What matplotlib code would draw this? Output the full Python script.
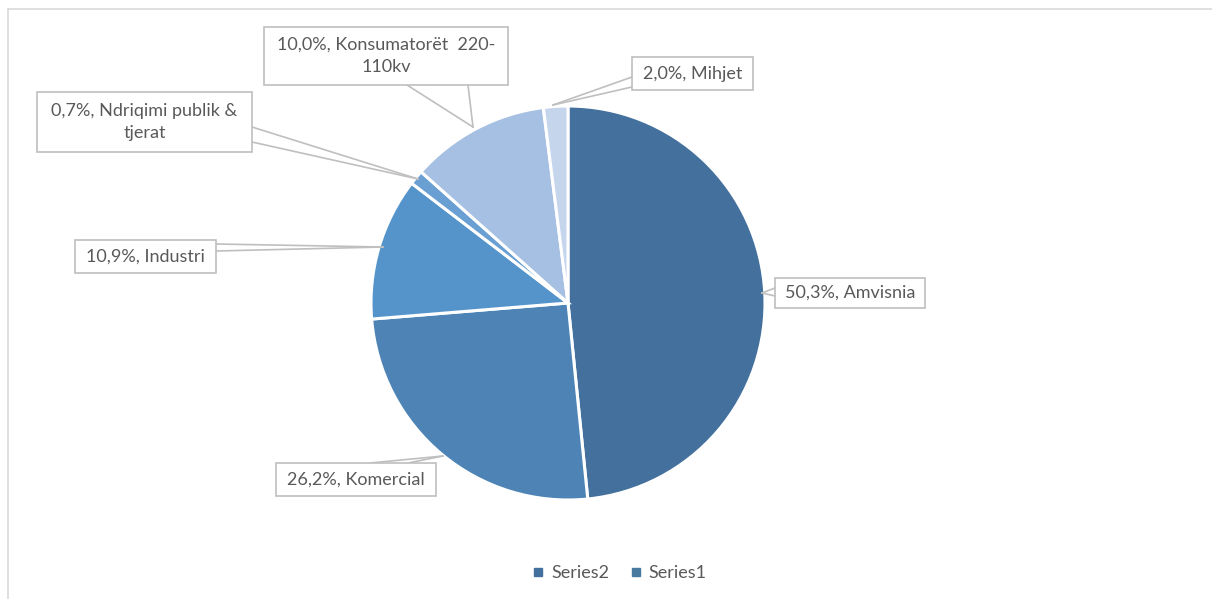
import matplotlib.pyplot as plt
from matplotlib.patches import Rectangle
from matplotlib.lines import Line2D

# slice labels as printed on the chart
categories = ['Amvisnia', 'Komercial', 'Industri', 'Ndriqimi publik &\ntjerat',
              'Konsumatorët  220-\n110kv', 'Mihjet']
label_pct = ['50,3%', '26,2%', '10,9%', '0,7%', '10,0%', '2,0%']
# slice sizes as they are drawn in the picture (share of the circle, %)
slice_sizes = [48.4, 25.3, 11.7, 1.2, 11.4, 2.0]
colors = ['#43709c', '#4d84b5', '#5593cb', '#6a9fd3', '#a5c0e2', '#c4d5ec']
legend_names = ['Series2', 'Series1']
legend_colors = ['#43709c', '#48799f']

W, H = 1212, 599
TXT = '#595959'
EDGE = '#bfbfbf'
FONT = 'Lato'


def py(y):
    # pixel row -> data y
    return H - y


fig = plt.figure(figsize=(W / 100, H / 100), dpi=100)
ax = fig.add_axes([0, 0, 1, 1])

ax.pie(slice_sizes, colors=colors, startangle=90, counterclock=False,
       center=(568, py(303)), radius=197,
       wedgeprops=dict(edgecolor='white', linewidth=2.2))
ax.set_xlim(0, W)
ax.set_ylim(0, H)
ax.set_aspect('equal')
ax.axis('off')

# chart frame (top and left edge visible)
ax.plot([8, W], [py(9), py(9)], color='#d9d9d9', lw=1.2, clip_on=False)
ax.plot([8, 8], [py(9), 0], color='#d9d9d9', lw=1.2, clip_on=False)

# callouts: box (x0, y0, x1, y1), two leader base points, tip
callouts = [
    ((775, 278, 925, 308), (775, 288), (775, 296), (762, 293)),
    ((276, 463, 436, 496), (370, 463), (408, 463), (443, 456)),
    ((75, 240, 216, 273), (216, 244), (216, 251), (383, 247)),
    ((37, 92, 252, 152), (252, 127), (252, 142), (418, 179)),
    ((264, 27, 508, 85), (407, 85), (468, 85), (473, 127)),
    ((632, 57, 753, 90), (632, 77), (632, 87), (553, 105)),
]

for i, (box, b1, b2, tip) in enumerate(callouts):
    x0, y0, x1, y1 = box
    for b in (b1, b2):
        ax.plot([b[0], tip[0]], [py(b[1]), py(tip[1])], color=EDGE, lw=1.2,
                zorder=3)
    ax.add_patch(Rectangle((x0, py(y1)), x1 - x0, y1 - y0, facecolor='white',
                           edgecolor=EDGE, lw=1.2, zorder=4))
    ax.text((x0 + x1) / 2, py((y0 + y1) / 2),
            label_pct[i] + ', ' + categories[i],
            ha='center', va='center', ma='center', color=TXT,
            fontsize=13, family=FONT, zorder=5, linespacing=1.5)

handles = [Line2D([], [], marker='s', ls='', color=c, markersize=6)
           for c in legend_colors]
fig.legend(handles, legend_names, loc='center', ncol=2, frameon=False,
           bbox_to_anchor=(619 / W, 1 - 573 / H),
           prop=dict(family=FONT, size=13), labelcolor=TXT,
           handletextpad=0.3, columnspacing=1.1, handlelength=0.8)

fig.savefig('out.png', dpi=100)
